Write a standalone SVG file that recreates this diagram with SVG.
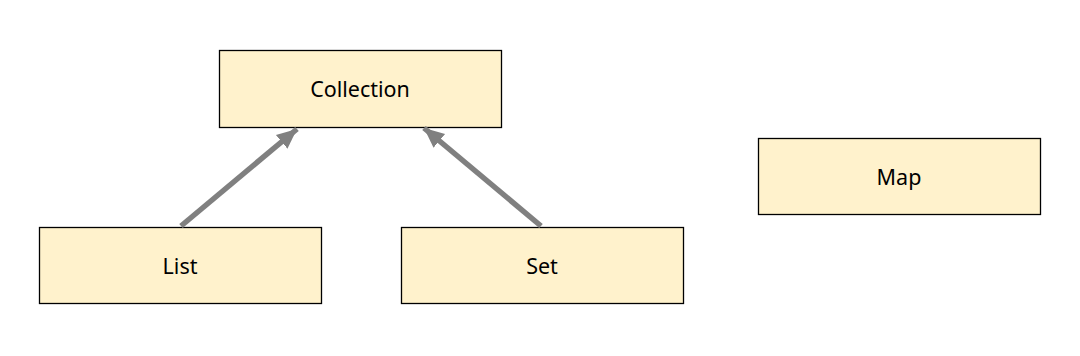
<svg xmlns="http://www.w3.org/2000/svg" width="1080" height="356" viewBox="0 0 1080 356">
<style>
.box{fill:#FFF2CC;stroke:#000;stroke-width:1.3}
.lbl{font-family:"Noto Sans","Open Sans",sans-serif;font-size:21.5px;fill:#000;text-anchor:middle;dominant-baseline:central}
.conn{stroke:#808080;stroke-width:5.5;fill:none}
</style>
<defs>
<marker id="ah" markerUnits="userSpaceOnUse" markerWidth="22" markerHeight="22" viewBox="0 0 22 22" refX="20" refY="11" orient="auto">
<path d="M0,2 L20,11 L0,20 Z" fill="#808080"/>
</marker>
</defs>
<rect width="1080" height="356" fill="#fff"/>
<g id="collection"><rect class="box" x="219.5" y="50.5" width="282" height="77"/><text class="lbl" x="360" y="88">Collection</text></g>
<g id="list"><rect class="box" x="39.5" y="227.5" width="282" height="76"/><text class="lbl" x="180" y="265">List</text></g>
<g id="set"><rect class="box" x="401.5" y="227.5" width="282" height="76"/><text class="lbl" x="542" y="265">Set</text></g>
<g id="map"><rect class="box" x="758.5" y="138.5" width="282" height="76"/><text class="lbl" x="899" y="176">Map</text></g>
<g id="connectors">
<line class="conn" x1="181" y1="226" x2="297" y2="129" marker-end="url(#ah)"/>
<line class="conn" x1="541" y1="226" x2="424" y2="128" marker-end="url(#ah)"/>
</g>
</svg>
